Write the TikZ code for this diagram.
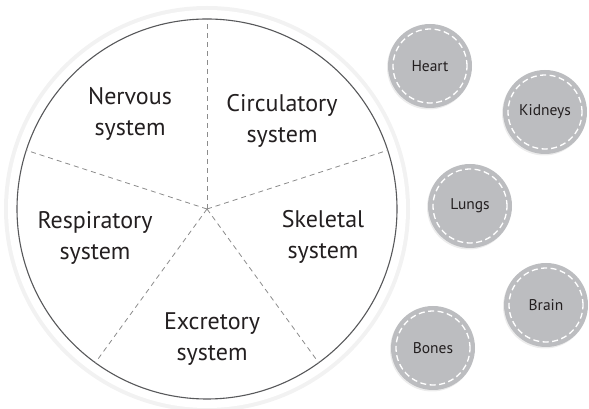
\documentclass[tikz,border=0pt]{standalone}
\usepackage{fontspec}
\setmainfont{PT Sans}
\usetikzlibrary{shadows}
\definecolor{organgray}{HTML}{BCBDC0}
\definecolor{rimgray}{HTML}{58595B}
\definecolor{inkgray}{HTML}{231F20}
\tikzset{
	system/.style={align=center,font=\fontsize{24}{31}\selectfont,text=inkgray},
	organ/.style={circle,fill=organgray,minimum size=84pt,inner sep=0pt,
		font=\fontsize{15.5}{19}\selectfont,text=inkgray,
		drop shadow={shadow xshift=-1pt,shadow yshift=-1.5pt,opacity=0.15}},
	stitch/.style={white,line width=1.3pt,dash pattern=on 6pt off 3.5pt},
	spoke/.style={gray!90,line width=0.8pt,dash pattern=on 5pt off 4pt}
}
\begin{document}
\begin{tikzpicture}[x=1pt,y=1pt]
		\useasboundingbox (0,0) rectangle (589,409);
		% the wheel
		\coordinate (c) at (207,200);
		\fill[black!5] (c) circle (203);
		\fill[white] (c) circle (199);
		\draw[rimgray,line width=1.1pt] (c) circle (190);
		\foreach \a in {90,18,-54,-126,162}
		{
			\draw[spoke] (c) -- ++(\a:190) ;
		}
		\node[system] (nervous) at (130,295) {Nervous\\system};
		\node[system] (circulatory) at (282,288) {Circulatory\\system};
		\node[system] (respiratory) at (95,171) {Respiratory\\system};
		\node[system] (skeletal) at (323,172) {Skeletal\\system};
		\node[system] (excretory) at (212,70) {Excretory\\system};
		% the organs
		\node[organ] (heart) at (430,343) {Heart};
		\node[organ] (kidneys) at (545,297) {Kidneys};
		\node[organ] (lungs) at (470,203) {Lungs};
		\node[organ] (brain) at (546,104) {Brain};
		\node[organ] (bones) at (433,61) {Bones};
		\foreach \o in {heart,kidneys,lungs,brain,bones}
		{
			\draw[stitch] (\o) circle (37) ;
		}
		\end{tikzpicture}
\end{document}
